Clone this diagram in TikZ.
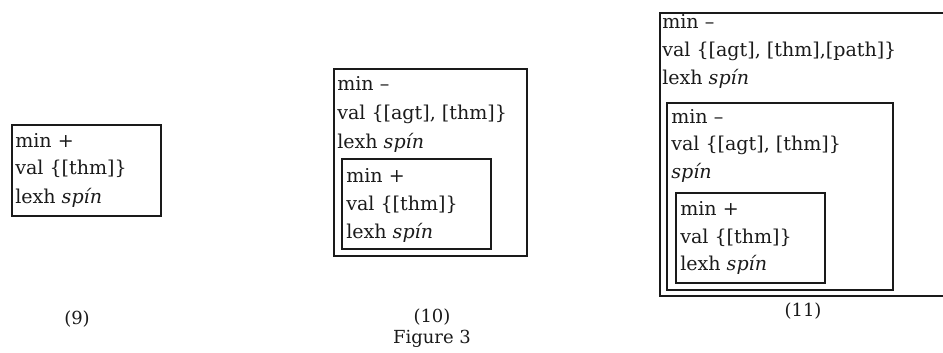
\documentclass[tikz,border=0pt]{standalone}
\usepackage{fontspec}
\setmainfont{DejaVu Serif}
\usepackage{tikz}
\definecolor{fink}{HTML}{1A1A1A}

\begin{document}
\begin{tikzpicture}[x=0.75pt,y=-0.75pt,
    every node/.style={font=\fontsize{14.3pt}{21pt}\selectfont,text=fink,inner sep=0pt},
    ln/.style={anchor=base west},
    lab/.style={anchor=base,font=\fontsize{13.5pt}{21pt}\selectfont},
    frame/.style={draw=fink,line width=1pt}]
  \useasboundingbox (0,0) rectangle (943,353);
  \clip (0,0) rectangle (943,353);

  % (9)
  \draw[frame] (12,125) rectangle (161,216);
  \node[ln] (a1) at (15,147) {min +};
  \node[ln] (a2) at (15,175) {val \{[thm]\}};
  \node[ln] (a3) at (15,203) {lexh \textit{spín}};

  % (10)
  \draw[frame] (334,69) rectangle (527,256);
  \node[ln] (b1) at (337,91) {min –};
  \node[ln] (b2) at (337,120) {val \{[agt], [thm]\}};
  \node[ln] (b3) at (337,148) {lexh \textit{spín}};
  \draw[frame] (342,159) rectangle (491,249);
  \node[ln] (c1) at (346,182) {min +};
  \node[ln] (c2) at (346,210) {val \{[thm]\}};
  \node[ln] (c3) at (346,238) {lexh \textit{spín}};

  % (11)
  \draw[frame] (660,13) rectangle (960,296);
  \node[ln] (d1) at (662,29) {min –};
  \node[ln] (d2) at (662,57) {val \{[agt], [thm],[path]\}};
  \node[ln] (d3) at (662,85) {lexh \textit{spín}};
  \draw[frame] (667,103) rectangle (893,290);
  \node[ln] (e1) at (671,123) {min –};
  \node[ln] (e2) at (671,151) {val \{[agt], [thm]\}};
  \node[ln] (e3) at (671,178) {\textit{spín}};
  \draw[frame] (676,193) rectangle (825,283);
  \node[ln] (f1) at (680,215) {min +};
  \node[ln] (f2) at (680,243) {val \{[thm]\}};
  \node[ln] (f3) at (680,270) {lexh \textit{spín}};

  % captions
  \node[lab] (n9) at (77,324) {(9)};
  \node[lab] (n10) at (432,322) {(10)};
  \node[lab] (n11) at (803,316) {(11)};
  \node[lab] (fig) at (432,343) {Figure 3};
\end{tikzpicture}
\end{document}
